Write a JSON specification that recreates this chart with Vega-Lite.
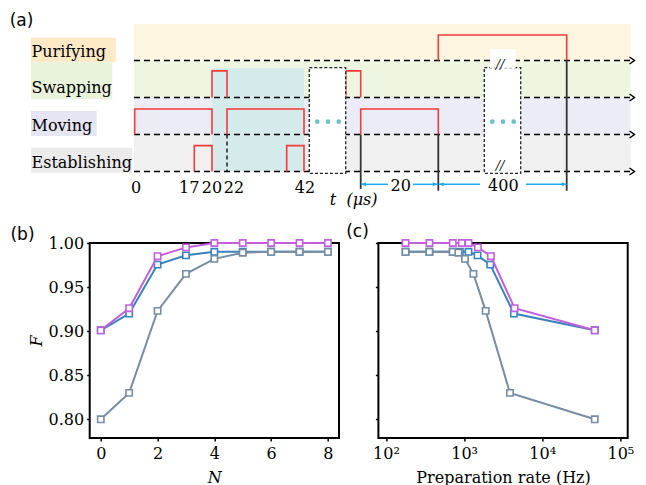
{
  "$schema": "https://vega.github.io/schema/vega-lite/v6.json",
  "padding": 0,
  "background": "white",
  "bounds": "flush",
  "spacing": 0,
  "config": {
    "view": {"stroke": null},
    "font": "DejaVu Serif",
    "axis": {
      "labelFont": "DejaVu Serif", "labelFontSize": 16, "labelColor": "black",
      "titleFont": "DejaVu Serif", "titleFontSize": 16, "titleFontWeight": "normal", "titleColor": "black",
      "tickColor": "black", "tickWidth": 1.5, "tickSize": 3, "domain": false, "grid": false, "labelPadding": 3
    },
    "axisX": {"labelPadding": 4, "titlePadding": 8}
  },
  "datasets": {
    "regions": [
      {"kind": "Purifying", "t": 0, "t2": 496.7, "level": 3, "level2": 3.99},
      {"kind": "Swapping", "t": 0, "t2": 496.7, "level": 2, "level2": 3},
      {"kind": "Moving", "t": 0, "t2": 496.7, "level": 1, "level2": 2},
      {"kind": "Establishing", "t": 0, "t2": 496.7, "level": 0, "level2": 1},
      {"kind": "Purifying label", "t": -103, "t2": -18.3, "level": 2.951, "level2": 3.616},
      {"kind": "Swapping label", "t": -103, "t2": -21.7, "level": 1.959, "level2": 2.951},
      {"kind": "Moving label", "t": -103, "t2": -37.3, "level": 0.959, "level2": 1.635},
      {"kind": "Establishing label", "t": -103, "t2": -1.7, "level": -0.032, "level2": 0.643},
      {"kind": "Window", "t": 78, "t2": 170, "level": 0, "level2": 2.79}
    ],
    "baselines": [
      {"row": "Purifying", "t": 0, "t2": 496, "tip": 498, "level": 3},
      {"row": "Swapping", "t": 0, "t2": 496, "tip": 498, "level": 2},
      {"row": "Moving", "t": 0, "t2": 496, "tip": 498, "level": 1},
      {"row": "Establishing", "t": 0, "t2": 496, "tip": 498, "level": 0}
    ],
    "pulses": [
      {"pulse": "m1", "seq": 0, "t": 0.7, "level": 1}, {"pulse": "m1", "seq": 1, "t": 0.7, "level": 1.69}, {"pulse": "m1", "seq": 2, "t": 78, "level": 1.69}, {"pulse": "m1", "seq": 3, "t": 78, "level": 1},
      {"pulse": "s1", "seq": 0, "t": 78, "level": 2}, {"pulse": "s1", "seq": 1, "t": 78, "level": 2.72}, {"pulse": "s1", "seq": 2, "t": 93, "level": 2.72}, {"pulse": "s1", "seq": 3, "t": 93, "level": 2},
      {"pulse": "m2", "seq": 0, "t": 93, "level": 1}, {"pulse": "m2", "seq": 1, "t": 93, "level": 1.69}, {"pulse": "m2", "seq": 2, "t": 170, "level": 1.69}, {"pulse": "m2", "seq": 3, "t": 170, "level": 1},
      {"pulse": "e1", "seq": 0, "t": 60.3, "level": 0}, {"pulse": "e1", "seq": 1, "t": 60.3, "level": 0.7}, {"pulse": "e1", "seq": 2, "t": 78, "level": 0.7}, {"pulse": "e1", "seq": 3, "t": 78, "level": 0},
      {"pulse": "e2", "seq": 0, "t": 152.7, "level": 0}, {"pulse": "e2", "seq": 1, "t": 152.7, "level": 0.7}, {"pulse": "e2", "seq": 2, "t": 170, "level": 0.7}, {"pulse": "e2", "seq": 3, "t": 170, "level": 0},
      {"pulse": "s2", "seq": 0, "t": 211.7, "level": 2}, {"pulse": "s2", "seq": 1, "t": 211.7, "level": 2.72}, {"pulse": "s2", "seq": 2, "t": 226.7, "level": 2.72}, {"pulse": "s2", "seq": 3, "t": 226.7, "level": 2},
      {"pulse": "m3", "seq": 0, "t": 226.7, "level": 1}, {"pulse": "m3", "seq": 1, "t": 226.7, "level": 1.69}, {"pulse": "m3", "seq": 2, "t": 304.3, "level": 1.69}, {"pulse": "m3", "seq": 3, "t": 304.3, "level": 1},
      {"pulse": "p1", "seq": 0, "t": 304.3, "level": 3}, {"pulse": "p1", "seq": 1, "t": 304.3, "level": 3.69}, {"pulse": "p1", "seq": 2, "t": 432.7, "level": 3.69}, {"pulse": "p1", "seq": 3, "t": 432.7, "level": 3}
    ],
    "gaps": [
      {"gap": "repeat", "t": 175.3, "t2": 211.7, "level": -0.05, "level2": 2.81},
      {"gap": "break", "t": 350.3, "t2": 386.7, "level": -0.05, "level2": 2.81}
    ],
    "gapCover": [{"t": 356, "t2": 381.7, "level": 2.8, "level2": 3.31}],
    "ellipsis": [
      {"t": 183.3, "level": 1.346}, {"t": 194, "level": 1.346}, {"t": 204.7, "level": 1.346},
      {"t": 358.3, "level": 1.346}, {"t": 369, "level": 1.346}, {"t": 379.7, "level": 1.346}
    ],
    "breaks": [{"t": 366, "level": 2.88, "mark": "//"}, {"t": 366, "level": 0.15, "mark": "//"}],
    "markers": [
      {"t": 226.7, "level": 1, "level2": -0.47},
      {"t": 304.3, "level": 1, "level2": -0.52},
      {"t": 432.7, "level": 3, "level2": -0.52}
    ],
    "dashedMarker": [{"t": 93, "level": 1, "level2": 0}],
    "spans": [
      {"t": 227, "t2": 254, "level": -0.346},
      {"t": 279, "t2": 303.7, "level": -0.346},
      {"t": 304.7, "t2": 346, "level": -0.346},
      {"t": 392, "t2": 432.7, "level": -0.346}
    ],
    "spanHeads": [
      {"t": 229.5, "level": -0.346, "angle": 180},
      {"t": 301.2, "level": -0.346, "angle": 0},
      {"t": 307.2, "level": -0.346, "angle": 180},
      {"t": 430.2, "level": -0.346, "angle": 0}
    ],
    "spanLabels": [{"t": 266.7, "level": -0.52, "label": "20"}, {"t": 369.3, "level": -0.52, "label": "400"}],
    "timeTicks": [
      {"t": 2, "level": -0.573, "label": "0"},
      {"t": 55.2, "level": -0.573, "label": "17"},
      {"t": 78, "level": -0.573, "label": "20"},
      {"t": 100, "level": -0.573, "label": "22"},
      {"t": 171, "level": -0.573, "label": "42"}
    ],
    "rowLabels": [
      {"t": -102.5, "level": 3.086, "label": "Purifying"},
      {"t": -102.5, "level": 2.114, "label": "Swapping"},
      {"t": -102.5, "level": 1.103, "label": "Moving"},
      {"t": -102.5, "level": 0.086, "label": "Establishing"}
    ],
    "panelLabels": [
      {"t": -112.5, "level": 3.93, "label": "(a)"},
      {"t": -111.5, "level": -1.85, "label": "(b)"},
      {"t": 223.5, "level": -1.77, "label": "(c)"}
    ],
    "timeTitleVar": [{"t": 199, "level": -0.905, "label": "t"}],
    "timeTitleUnit": [{"t": 228, "level": -0.905, "label": "(μs)"}],
    "fidelityN": [
      {"scheme": "B", "N": 0, "F": 0.901}, {"scheme": "B", "N": 1, "F": 0.920}, {"scheme": "B", "N": 2, "F": 0.9755}, {"scheme": "B", "N": 3, "F": 0.986}, {"scheme": "B", "N": 4, "F": 0.990}, {"scheme": "B", "N": 5, "F": 0.990}, {"scheme": "B", "N": 6, "F": 0.990}, {"scheme": "B", "N": 7, "F": 0.990}, {"scheme": "B", "N": 8, "F": 0.990},
      {"scheme": "C", "N": 0, "F": 0.800}, {"scheme": "C", "N": 1, "F": 0.830}, {"scheme": "C", "N": 2, "F": 0.923}, {"scheme": "C", "N": 3, "F": 0.965}, {"scheme": "C", "N": 4, "F": 0.982}, {"scheme": "C", "N": 5, "F": 0.989}, {"scheme": "C", "N": 6, "F": 0.990}, {"scheme": "C", "N": 7, "F": 0.990}, {"scheme": "C", "N": 8, "F": 0.990},
      {"scheme": "A", "N": 0, "F": 0.901}, {"scheme": "A", "N": 1, "F": 0.926}, {"scheme": "A", "N": 2, "F": 0.985}, {"scheme": "A", "N": 3, "F": 0.995}, {"scheme": "A", "N": 4, "F": 1.0}, {"scheme": "A", "N": 5, "F": 1.0}, {"scheme": "A", "N": 6, "F": 1.0}, {"scheme": "A", "N": 7, "F": 1.0}, {"scheme": "A", "N": 8, "F": 1.0}
    ],
    "fidelityRate": [
      {"scheme": "B", "rate": 178, "F": 0.990}, {"scheme": "B", "rate": 360, "F": 0.990}, {"scheme": "B", "rate": 716, "F": 0.990}, {"scheme": "B", "rate": 881, "F": 0.990}, {"scheme": "B", "rate": 1138, "F": 0.990}, {"scheme": "B", "rate": 1486, "F": 0.986}, {"scheme": "B", "rate": 2158, "F": 0.9755}, {"scheme": "B", "rate": 4335, "F": 0.920}, {"scheme": "B", "rate": 47000, "F": 0.901},
      {"scheme": "C", "rate": 178, "F": 0.990}, {"scheme": "C", "rate": 359, "F": 0.990}, {"scheme": "C", "rate": 713, "F": 0.990}, {"scheme": "C", "rate": 845, "F": 0.989}, {"scheme": "C", "rate": 1026, "F": 0.982}, {"scheme": "C", "rate": 1315, "F": 0.965}, {"scheme": "C", "rate": 1888, "F": 0.923}, {"scheme": "C", "rate": 3864, "F": 0.830}, {"scheme": "C", "rate": 47000, "F": 0.800},
      {"scheme": "A", "rate": 178, "F": 1.0}, {"scheme": "A", "rate": 360, "F": 1.0}, {"scheme": "A", "rate": 716, "F": 1.0}, {"scheme": "A", "rate": 933, "F": 1.0}, {"scheme": "A", "rate": 1138, "F": 1.0}, {"scheme": "A", "rate": 1500, "F": 0.995}, {"scheme": "A", "rate": 2203, "F": 0.985}, {"scheme": "A", "rate": 4430, "F": 0.926}, {"scheme": "A", "rate": 47000, "F": 0.901}
    ]
  },
  "vconcat": [
    {
      "width": 646,
      "height": 242.7,
      "encoding": {
        "x": {"field": "t", "type": "quantitative", "scale": {"domain": [-134, 512], "nice": false, "zero": false}, "axis": null},
        "y": {"field": "level", "type": "quantitative", "scale": {"domain": [-1.924, 4.635], "nice": false, "zero": false}, "axis": null}
      },
      "layer": [
        {
          "data": {"name": "regions"},
          "mark": {"type": "rect"},
          "encoding": {
            "x2": {"field": "t2"}, "y2": {"field": "level2"},
            "fill": {"field": "kind", "type": "nominal", "legend": null,
              "scale": {
                "domain": ["Purifying", "Swapping", "Moving", "Establishing", "Purifying label", "Swapping label", "Moving label", "Establishing label", "Window"],
                "range": ["#fdf5e0", "#eef6e2", "#ececf7", "#f0f0f0", "#fde9c6", "#e9f3dc", "#e5e5f4", "#ebebeb", "#d5eaea"]
              }
            }
          }
        },
        {
          "data": {"name": "baselines"},
          "mark": {"type": "rule", "color": "black", "strokeWidth": 1.5, "strokeDash": [6, 4]},
          "encoding": {"x2": {"field": "t2"}}
        },
        {
          "data": {"name": "baselines"},
          "mark": {"type": "point", "shape": "M-0.7,-1L0.7,0L-0.7,1", "filled": false, "color": "black", "strokeWidth": 1.5, "size": 49, "opacity": 1},
          "encoding": {"x": {"field": "tip", "type": "quantitative"}}
        },
        {
          "data": {"name": "dashedMarker"},
          "mark": {"type": "rule", "color": "black", "strokeWidth": 1.3, "strokeDash": [4, 3]},
          "encoding": {"y2": {"field": "level2"}}
        },
        {
          "data": {"name": "pulses"},
          "mark": {"type": "line", "color": "#f43a3a", "strokeWidth": 1.6},
          "encoding": {"detail": {"field": "pulse"}, "order": {"field": "seq", "type": "quantitative"}}
        },
        {
          "data": {"name": "gaps"},
          "mark": {"type": "rect", "fill": "white", "stroke": "#222222", "strokeWidth": 1.3, "strokeDash": [3, 2]},
          "encoding": {"x2": {"field": "t2"}, "y2": {"field": "level2"}}
        },
        {
          "data": {"name": "gapCover"},
          "mark": {"type": "rect", "fill": "white"},
          "encoding": {"x2": {"field": "t2"}, "y2": {"field": "level2"}}
        },
        {
          "data": {"name": "ellipsis"},
          "mark": {"type": "circle", "color": "#6fc0cc", "size": 22, "opacity": 1}
        },
        {
          "data": {"name": "breaks"},
          "mark": {"type": "text", "font": "DejaVu Serif", "fontStyle": "italic", "fontSize": 13, "color": "#222222", "baseline": "middle", "align": "center"},
          "encoding": {"text": {"field": "mark"}}
        },
        {
          "data": {"name": "markers"},
          "mark": {"type": "rule", "color": "#333333", "strokeWidth": 1.8},
          "encoding": {"y2": {"field": "level2"}}
        },
        {
          "data": {"name": "spans"},
          "mark": {"type": "rule", "color": "#1eaaf0", "strokeWidth": 1.5},
          "encoding": {"x2": {"field": "t2"}}
        },
        {
          "data": {"name": "spanHeads"},
          "mark": {"type": "point", "shape": "M1,0L-1,-0.8L-1,0.8Z", "filled": true, "color": "#1eaaf0", "size": 25, "opacity": 1},
          "encoding": {"angle": {"field": "angle", "type": "quantitative", "scale": null}}
        },
        {
          "data": {"name": "spanLabels"},
          "mark": {"type": "text", "font": "DejaVu Serif", "fontSize": 16, "color": "black", "align": "center", "baseline": "alphabetic"},
          "encoding": {"text": {"field": "label"}}
        },
        {
          "data": {"name": "timeTicks"},
          "mark": {"type": "text", "font": "DejaVu Serif", "fontSize": 16, "color": "black", "align": "center", "baseline": "alphabetic"},
          "encoding": {"text": {"field": "label"}}
        },
        {
          "data": {"name": "rowLabels"},
          "mark": {"type": "text", "font": "DejaVu Serif", "fontSize": 16, "color": "black", "align": "left", "baseline": "alphabetic"},
          "encoding": {"text": {"field": "label"}}
        },
        {
          "data": {"name": "timeTitleVar"},
          "mark": {"type": "text", "font": "DejaVu Serif", "fontStyle": "italic", "fontSize": 16, "color": "black", "align": "center", "baseline": "alphabetic"},
          "encoding": {"text": {"field": "label"}}
        },
        {
          "data": {"name": "timeTitleUnit"},
          "mark": {"type": "text", "font": "DejaVu Serif", "fontStyle": "italic", "fontSize": 16, "color": "black", "align": "center", "baseline": "alphabetic"},
          "encoding": {"text": {"field": "label"}}
        },
        {
          "data": {"name": "panelLabels"},
          "mark": {"type": "text", "font": "DejaVu Sans", "fontSize": 17, "color": "black", "align": "center", "baseline": "alphabetic"},
          "encoding": {"text": {"field": "label"}}
        }
      ]
    },
    {
      "hconcat": [
        {
          "width": 50.3,
          "height": 195,
          "data": {"values": [{"blank": ""}]},
          "mark": {"type": "text"},
          "encoding": {"text": {"field": "blank"}}
        },
        {
          "width": 249.3,
          "height": 195,
          "view": {"stroke": "black", "strokeWidth": 2},
          "data": {"name": "fidelityN"},
          "encoding": {
            "x": {"field": "N", "type": "quantitative", "scale": {"domain": [-0.39, 8.39], "nice": false, "zero": false},
              "axis": {"values": [0, 2, 4, 6, 8], "title": "N", "titleFontStyle": "italic"}},
            "y": {"field": "F", "type": "quantitative", "scale": {"domain": [0.7788, 1.0], "nice": false, "zero": false},
              "axis": {"values": [0.8, 0.85, 0.9, 0.95, 1.0], "format": ".2f", "title": "F", "titleFontStyle": "italic", "titlePadding": 4}},
            "color": {"field": "scheme", "type": "nominal", "legend": null,
              "scale": {"domain": ["A", "B", "C"], "range": ["#c160dc", "#3b82bd", "#768da3"]}}
          },
          "layer": [
            {"transform": [{"filter": "datum.scheme === 'B'"}], "mark": {"type": "line", "strokeWidth": 2}},
            {"transform": [{"filter": "datum.scheme === 'B'"}], "mark": {"type": "point", "shape": "square", "size": 40, "filled": false, "fill": "white", "strokeWidth": 1.6, "opacity": 1}},
            {"transform": [{"filter": "datum.scheme === 'C'"}], "mark": {"type": "line", "strokeWidth": 2}},
            {"transform": [{"filter": "datum.scheme === 'C'"}], "mark": {"type": "point", "shape": "square", "size": 40, "filled": false, "fill": "white", "strokeWidth": 1.6, "opacity": 1}},
            {"transform": [{"filter": "datum.scheme === 'A'"}], "mark": {"type": "line", "strokeWidth": 2}},
            {"transform": [{"filter": "datum.scheme === 'A'"}], "mark": {"type": "point", "shape": "square", "size": 40, "filled": false, "fill": "white", "strokeWidth": 1.6, "opacity": 1}}
          ]
        },
        {
          "width": 249.3,
          "height": 195,
          "view": {"stroke": "black", "strokeWidth": 2},
          "data": {"name": "fidelityRate"},
          "encoding": {
            "x": {"field": "rate", "type": "quantitative", "scale": {"type": "log", "domain": [80, 124000], "nice": false},
              "axis": {"values": [100, 1000, 10000, 100000], "title": "Preparation rate (Hz)",
                "labelExpr": "datum.value == 100 ? '10²' : datum.value == 1000 ? '10³' : datum.value == 10000 ? '10⁴' : '10⁵'"}},
            "y": {"field": "F", "type": "quantitative", "scale": {"domain": [0.7788, 1.0], "nice": false, "zero": false},
              "axis": {"values": [0.8, 0.85, 0.9, 0.95, 1.0], "labels": false, "title": null}},
            "color": {"field": "scheme", "type": "nominal", "legend": null,
              "scale": {"domain": ["A", "B", "C"], "range": ["#c160dc", "#3b82bd", "#768da3"]}}
          },
          "layer": [
            {"transform": [{"filter": "datum.scheme === 'B'"}], "mark": {"type": "line", "strokeWidth": 2}},
            {"transform": [{"filter": "datum.scheme === 'B'"}], "mark": {"type": "point", "shape": "square", "size": 40, "filled": false, "fill": "white", "strokeWidth": 1.6, "opacity": 1}},
            {"transform": [{"filter": "datum.scheme === 'C'"}], "mark": {"type": "line", "strokeWidth": 2}},
            {"transform": [{"filter": "datum.scheme === 'C'"}], "mark": {"type": "point", "shape": "square", "size": 40, "filled": false, "fill": "white", "strokeWidth": 1.6, "opacity": 1}},
            {"transform": [{"filter": "datum.scheme === 'A'"}], "mark": {"type": "line", "strokeWidth": 2}},
            {"transform": [{"filter": "datum.scheme === 'A'"}], "mark": {"type": "point", "shape": "square", "size": 40, "filled": false, "fill": "white", "strokeWidth": 1.6, "opacity": 1}}
          ]
        }
      ],
      "spacing": 38.7,
      "bounds": "flush"
    }
  ]
}
